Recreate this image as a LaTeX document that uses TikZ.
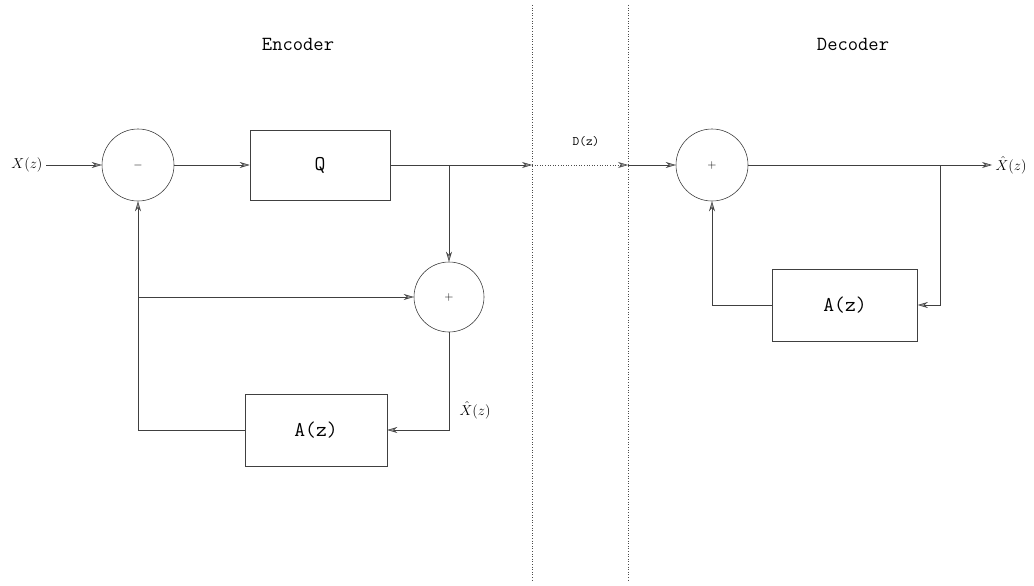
\documentclass[tikz,border=0pt]{standalone}
\usepackage{fontspec}
\usetikzlibrary{arrows.meta}
\begin{document}
\begin{tikzpicture}[x=1pt,y=-1pt,
  ln/.style={draw=black!75, line width=0.6pt},
  tip/.style={-{Stealth[length=10pt,width=6pt,fill=black!40]}},
  arr/.style={ln, tip},
  sumc/.style={circle, draw=black!75, line width=0.6pt, minimum size=72pt, inner sep=0pt, font=\fontsize{13}{13}\selectfont},
  blk/.style={draw=black!75, line width=0.6pt, minimum width=142pt, minimum height=72pt, inner sep=0pt, font=\ttfamily\fontsize{21}{21}\selectfont},
  ttl/.style={font=\ttfamily\fontsize{20}{20}\selectfont},
  lbl/.style={font=\fontsize{15}{15}\selectfont},
  dots/.style={draw=black!70, line width=0.6pt, dotted}]
\useasboundingbox (0,0) rectangle (1034,586);
% separators
\coordinate (s1t) at (532,5); \coordinate (s1b) at (532,582);
\coordinate (s2t) at (628,5); \coordinate (s2b) at (628,582);
\draw[dots] (s1t) -- (s1b);
\draw[dots] (s2t) -- (s2b);
\node[ttl] (enc) at (298,44) {Encoder};
\node[ttl] (dec) at (853,44) {Decoder};
% encoder
\node[lbl, anchor=east] (x) at (46,165) {$X(z)$};
\node[sumc] (m) at (138,165) {$-$};
\node[blk, minimum width=140pt, minimum height=70pt] (q) at (320,165) {Q};
\node[sumc, minimum size=70pt] (p) at (449,297) {$+$};
\node[blk] (a1) at (316,430) {A(z)};
\coordinate (s1) at (532,165);
\coordinate (s2) at (628,165);
\coordinate (j1) at (449,165);
\coordinate (c1) at (449,430);
\coordinate (c2) at (138,430);
\coordinate (j2) at (138,297);
\draw[arr] (x) -- (m);
\draw[arr] (m) -- (q);
\draw[arr] (q) -- (s1);
\draw[arr] (j1) -- (p);
\draw[arr] (p) -- (c1) -- (a1);
\draw[arr] (a1) -- (c2) -- (m);
\draw[arr] (j2) -- (p);
\node[lbl, anchor=west] (xh1) at (456,410) {$\hat X(z)$};
% channel
\draw[dots, tip] (s1) -- (s2);
\node[font=\ttfamily\fontsize{13}{13}\selectfont] (d) at (586,142) {D(z)};
% decoder
\node[sumc] (p2) at (712,165) {$+$};
\node[blk, minimum width=145pt] (a2) at (845,305) {A(z)};
\node[lbl, anchor=west] (xh2) at (992,165) {$\hat X(z)$};
\coordinate (j3) at (940,165);
\coordinate (c3) at (940,305);
\coordinate (c4) at (712,305);
\draw[arr] (s2) -- (p2);
\draw[arr] (p2) -- (xh2);
\draw[arr] (j3) -- (c3) -- (a2);
\draw[arr] (a2) -- (c4) -- (p2);
\end{tikzpicture}
\end{document}
